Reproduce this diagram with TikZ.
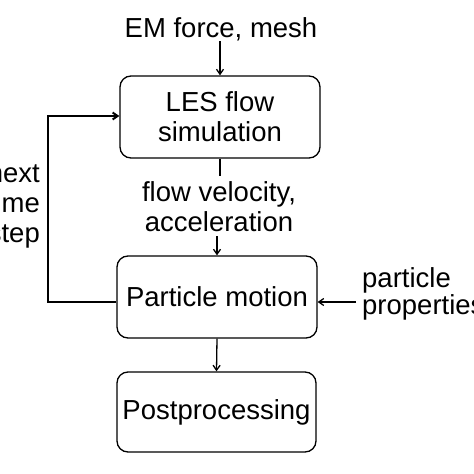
\documentclass[tikz,border=0pt]{standalone}
\usepackage{fontspec}
\setmainfont{Liberation Sans}
\usetikzlibrary{arrows.meta}
\begin{document}
\begin{tikzpicture}[x=1pt,y=-1pt,
  box/.style={draw,line width=1.3pt,rounded corners=11pt,inner sep=0pt,align=center,font=\fontsize{27.5}{30}\selectfont},
  lbl/.style={inner sep=0pt,font=\fontsize{27.5}{30}\selectfont},
  arr/.style={line width=1.3pt,-{Straight Barb[length=5pt,width=7pt]}}]
\useasboundingbox (0,0) rectangle (474,474);
\node[box,minimum width=200pt,minimum height=82pt] (les) at (220,117) {LES flow\\simulation};
\node[box,minimum width=200pt,minimum height=82pt] (pm) at (217,297) {Particle motion};
\node[box,minimum width=199pt,minimum height=80pt] (pp) at (216.5,412) {Postprocessing};
\node[lbl,anchor=base] (em) at (221,37) {EM force, mesh};
\node[lbl,align=center] (fv) at (219,207) {flow velocity,\\acceleration};
\node[lbl,align=right,anchor=east] (nts) at (40,206) {next\\time\\step};
\node[lbl,align=left,anchor=west,font=\fontsize{27.5}{25}\selectfont] (prop) at (362,294) {particle\\properties};
\coordinate (emb) at (220,41);
\coordinate (pin) at (356,302);
\coordinate (lb) at (48,302);
\coordinate (lt) at (48,116);
\draw[arr] (emb) -- (les.north);
\draw[line width=1.3pt] (les.south) -- (220,176);
\draw[arr] (217,236) -- (pm.north);
\draw[arr] (pin) -- (pm.east |- pin);
\draw[arr] (pm.south) -- (pp.north);
\draw[arr,line width=2pt] (pm.west |- lb) -- (lb) -- (lt) -- (les.west |- lt);
\end{tikzpicture}
\end{document}
